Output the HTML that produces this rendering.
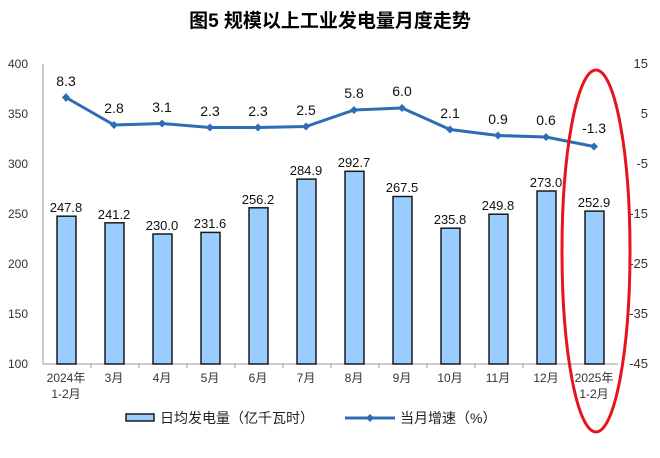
<!DOCTYPE html>
<html><head><meta charset="utf-8"><style>
body{margin:0;background:#fff}
text{font-family:"Liberation Sans","Noto Sans CJK SC",sans-serif}
</style></head><body>
<svg width="660" height="453" xmlns="http://www.w3.org/2000/svg">
<text x="330" y="27" text-anchor="middle" font-size="19" font-weight="bold" fill="#000">图5  规模以上工业发电量月度走势</text>
<g font-size="12" fill="#333" text-anchor="end">
<text x="28" y="68">400</text><text x="28" y="118">350</text><text x="28" y="168">300</text><text x="28" y="218">250</text><text x="28" y="268">200</text><text x="28" y="318">150</text><text x="28" y="368">100</text>
</g>
<g font-size="13" fill="#333" text-anchor="end" style="font-family:'Liberation Serif',serif">
<text x="648" y="68">15</text><text x="648" y="118">5</text><text x="648" y="168">-5</text><text x="648" y="218">-15</text><text x="648" y="268">-25</text><text x="648" y="318">-35</text><text x="648" y="368">-45</text>
</g>
<line x1="43" y1="64" x2="43" y2="364" stroke="#999"/>
<line x1="43" y1="364" x2="618" y2="364" stroke="#999"/>
<g stroke="#999">
<line x1="91" y1="364" x2="91" y2="368"/><line x1="139" y1="364" x2="139" y2="368"/><line x1="187" y1="364" x2="187" y2="368"/><line x1="235" y1="364" x2="235" y2="368"/><line x1="283" y1="364" x2="283" y2="368"/><line x1="331" y1="364" x2="331" y2="368"/><line x1="379" y1="364" x2="379" y2="368"/><line x1="427" y1="364" x2="427" y2="368"/><line x1="475" y1="364" x2="475" y2="368"/><line x1="523" y1="364" x2="523" y2="368"/><line x1="571" y1="364" x2="571" y2="368"/>
</g>
<g fill="#99ccff" stroke="#1a1a1a" stroke-width="1.5">
<rect x="57" y="216.2" width="19" height="147.8"/>
<rect x="105" y="222.8" width="19" height="141.2"/>
<rect x="153" y="234" width="19" height="130"/>
<rect x="201" y="232.4" width="19" height="131.6"/>
<rect x="249" y="207.8" width="19" height="156.2"/>
<rect x="297" y="179.1" width="19" height="184.9"/>
<rect x="345" y="171.3" width="19" height="192.7"/>
<rect x="393" y="196.5" width="19" height="167.5"/>
<rect x="441" y="228.2" width="19" height="135.8"/>
<rect x="489" y="214.2" width="19" height="149.8"/>
<rect x="537" y="191" width="19" height="173"/>
<rect x="585" y="211.1" width="19" height="152.9"/>
</g>
<g font-size="13" fill="#111" text-anchor="middle">
<text x="66" y="212">247.8</text><text x="114" y="219">241.2</text><text x="162" y="230">230.0</text><text x="210" y="228">231.6</text><text x="258" y="204">256.2</text><text x="306" y="175">284.9</text><text x="354" y="167">292.7</text><text x="402" y="192">267.5</text><text x="450" y="224">235.8</text><text x="498" y="210">249.8</text><text x="546" y="187">273.0</text><text x="594" y="207">252.9</text>
</g>
<polyline fill="none" stroke="#2e6db4" stroke-width="3" points="66,97.5 114,125 162,123.5 210,127.5 258,127.5 306,126.5 354,110 402,108 450,129.5 498,135.5 546,137 594,146.5"/>
<g fill="#2e6db4">
<path d="M66,93l4,4.5-4,4.5-4,-4.5z"/><path d="M114,121l4,4-4,4-4,-4z"/><path d="M162,119.5l4,4-4,4-4,-4z"/><path d="M210,123.5l4,4-4,4-4,-4z"/><path d="M258,123.5l4,4-4,4-4,-4z"/><path d="M306,122.5l4,4-4,4-4,-4z"/><path d="M354,106l4,4-4,4-4,-4z"/><path d="M402,104l4,4-4,4-4,-4z"/><path d="M450,125.5l4,4-4,4-4,-4z"/><path d="M498,131.5l4,4-4,4-4,-4z"/><path d="M546,133l4,4-4,4-4,-4z"/><path d="M594,142.5l4,4-4,4-4,-4z"/>
</g>
<g font-size="14" fill="#111" text-anchor="middle">
<text x="66" y="86">8.3</text><text x="114" y="113">2.8</text><text x="162" y="112">3.1</text><text x="210" y="116">2.3</text><text x="258" y="116">2.3</text><text x="306" y="115">2.5</text><text x="354" y="98">5.8</text><text x="402" y="96">6.0</text><text x="450" y="118">2.1</text><text x="498" y="124">0.9</text><text x="546" y="125">0.6</text><text x="594" y="133">-1.3</text>
</g>
<g font-size="12" fill="#333" text-anchor="middle">
<text x="66" y="382">2024年</text><text x="66" y="398">1-2月</text>
<text x="114" y="382">3月</text><text x="162" y="382">4月</text><text x="210" y="382">5月</text><text x="258" y="382">6月</text><text x="306" y="382">7月</text><text x="354" y="382">8月</text><text x="402" y="382">9月</text><text x="450" y="382">10月</text><text x="498" y="382">11月</text><text x="546" y="382">12月</text>
<text x="594" y="382">2025年</text><text x="594" y="398">1-2月</text>
</g>
<rect x="126" y="414" width="28" height="7" fill="#99ccff" stroke="#1a1a1a" stroke-width="1.5"/>
<text x="160" y="423" font-size="14" fill="#222">日均发电量（亿千瓦时）</text>
<line x1="345" y1="418" x2="395" y2="418" stroke="#2e6db4" stroke-width="3"/>
<path d="M370,414l4,4-4,4-4,-4z" fill="#2e6db4"/>
<text x="400" y="423" font-size="14" fill="#222">当月增速（%）</text>
<ellipse cx="596" cy="251" rx="34" ry="181" fill="none" stroke="#e8141b" stroke-width="3"/>
</svg>
</body></html>
